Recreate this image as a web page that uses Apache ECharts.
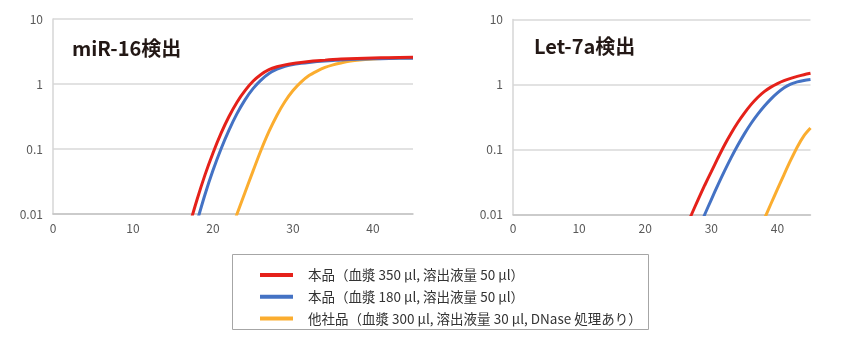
<!DOCTYPE html>
<html>
<head>
<meta charset="utf-8">
<script src="https://cdn.jsdelivr.net/npm/echarts@6/dist/echarts.min.js"></script>
<style>
  html, body { margin: 0; padding: 0; background: #fff; }
  #chart { width: 860px; height: 338px; }
</style>
</head>
<body>
<div id="chart"></div>
<script>
// Amplification curves (fluorescence vs. cycle, log scale)
const seriesNames = [
  '本品（血漿 350 µl, 溶出液量 50 µl）',
  '本品（血漿 180 µl, 溶出液量 50 µl）',
  '他社品（血漿 300 µl, 溶出液量 30 µl, DNase 処理あり）'
];
const seriesColors = ['#e5211a', '#4472c4', '#fbad2f'];
const panelTitles = ['miR-16検出', 'Let-7a検出'];
const xTicks = [0, 10, 20, 30, 40];
const yTicks = [0.01, 0.1, 1, 10];

// miR-16
const miR16RedCycles = [17, 18, 19, 20, 21, 22, 23, 24, 25, 26, 27, 28, 29, 30, 31, 32, 33, 34, 35, 36, 38, 40, 42, 45];
const miR16RedValues = [0.0063, 0.0166, 0.040, 0.087, 0.174, 0.316, 0.525, 0.79, 1.10, 1.40, 1.66, 1.84, 1.97, 2.07, 2.15, 2.22, 2.28, 2.33, 2.38, 2.42, 2.47, 2.51, 2.54, 2.57];
const miR16BlueCycles = [18, 19, 20, 21, 22, 23, 24, 25, 26, 27, 28, 29, 30, 31, 32, 33, 34, 35, 36, 38, 40, 42, 45];
const miR16BlueValues = [0.0076, 0.020, 0.047, 0.10, 0.195, 0.35, 0.57, 0.85, 1.15, 1.45, 1.69, 1.87, 2.0, 2.08, 2.15, 2.21, 2.26, 2.3, 2.34, 2.4, 2.44, 2.47, 2.5];
const miR16OrangeCycles = [22, 23, 24, 25, 26, 27, 28, 29, 30, 31, 32, 33, 34, 35, 36, 37, 38, 40, 42, 45];
const miR16OrangeValues = [0.0046, 0.01, 0.0214, 0.0457, 0.0955, 0.186, 0.331, 0.537, 0.794, 1.07, 1.35, 1.58, 1.80, 1.97, 2.11, 2.24, 2.32, 2.43, 2.50, 2.54];

// Let-7a
const let7aRedCycles = [26, 27, 28, 29, 30, 31, 32, 33, 34, 35, 36, 37, 38, 39, 40, 41, 42, 43, 44, 45];
const let7aRedValues = [0.006, 0.01, 0.017, 0.0282, 0.0457, 0.0741, 0.1175, 0.178, 0.26, 0.363, 0.49, 0.631, 0.776, 0.912, 1.035, 1.148, 1.245, 1.334, 1.413, 1.486];
const let7aBlueCycles = [28, 29, 30, 31, 32, 33, 34, 35, 36, 37, 38, 39, 40, 41, 42, 43, 44, 45];
const let7aBlueValues = [0.0058, 0.01, 0.017, 0.0285, 0.0468, 0.075, 0.116, 0.174, 0.251, 0.347, 0.462, 0.596, 0.741, 0.891, 1.012, 1.096, 1.156, 1.197];
const let7aOrangeCycles = [37, 38, 39, 40, 41, 42, 43, 44, 45];
const let7aOrangeValues = [0.005, 0.0085, 0.0145, 0.0245, 0.0412, 0.0684, 0.1096, 0.162, 0.214];

const zip = (xs, ys) => xs.map((x, i) => [x, ys[i]]);

const panels = [
  [zip(miR16RedCycles, miR16RedValues), zip(miR16BlueCycles, miR16BlueValues), zip(miR16OrangeCycles, miR16OrangeValues)],
  [zip(let7aRedCycles, let7aRedValues), zip(let7aBlueCycles, let7aBlueValues), zip(let7aOrangeCycles, let7aOrangeValues)]
];

const FONT = '"Noto Sans CJK JP", "Noto Sans", sans-serif';

const grids = [
  { left: 53, top: 19, width: 360, height: 195 },
  { left: 513, top: 19.5, width: 297.5, height: 195 }
];

const xAxes = grids.map((g, i) => ({
  type: 'value', gridIndex: i, min: 0, max: 45, interval: 10,
  axisLine: { show: true, lineStyle: { color: '#c4c4c4', width: 1.5 } },
  axisTick: { show: false },
  splitLine: { show: false },
  axisLabel: {
    color: '#595959', fontSize: 12, fontFamily: FONT, margin: 8,
    formatter: v => (xTicks.indexOf(v) >= 0 ? String(v) : '')
  }
}));

const yAxes = grids.map((g, i) => ({
  type: 'log', logBase: 10, gridIndex: i, min: 0.01, max: 10,
  axisLine: { show: true, lineStyle: { color: '#d6d6d6', width: 1.5 } },
  axisTick: { show: false },
  splitLine: { show: true, lineStyle: { color: '#d9d9d9', width: 1.5 } },
  axisLabel: {
    color: '#595959', fontSize: 12, fontFamily: FONT, margin: 10,
    formatter: v => {
      const t = yTicks.find(k => Math.abs(k - v) / k < 1e-6);
      return t === undefined ? '' : String(t);
    }
  }
}));

const series = [];
panels.forEach((lines, gi) => {
  lines.forEach((data, si) => {
    series.push({
      name: seriesNames[si],
      type: 'line',
      xAxisIndex: gi, yAxisIndex: gi,
      data: data,
      smooth: 0.3,
      showSymbol: false,
      clip: true,
      z: 10 - si,
      lineStyle: { color: seriesColors[si], width: 3 },
      itemStyle: { color: seriesColors[si] }
    });
  });
});

const chart = echarts.init(document.getElementById('chart'), null, { renderer: 'canvas' });
chart.setOption({
  animation: false,
  backgroundColor: '#ffffff',
  grid: grids,
  xAxis: xAxes,
  yAxis: yAxes,
  series: series,
  title: [
    { text: panelTitles[0], left: 67, top: 33,
      textStyle: { fontSize: 20, fontWeight: 'bold', color: '#231815', fontFamily: FONT } },
    { text: panelTitles[1], left: 529, top: 31,
      textStyle: { fontSize: 20, fontWeight: 'bold', color: '#231815', fontFamily: FONT } }
  ],
  legend: {
    orient: 'vertical',
    left: 260, top: 267,
    padding: 0,
    itemGap: 5.7,
    itemWidth: 33, itemHeight: 4,
    icon: 'rect',
    data: seriesNames,
    textStyle: { fontSize: 13.5, lineHeight: 16, color: '#333333', fontFamily: FONT, padding: [0, 0, 0, 10] },
    selectedMode: false
  },
  graphic: [{
    type: 'rect',
    shape: { x: 232.5, y: 254.5, width: 416, height: 75 },
    style: { fill: 'none', stroke: '#a6a6a6', lineWidth: 1 },
    silent: true
  }]
});
</script>
</body>
</html>
